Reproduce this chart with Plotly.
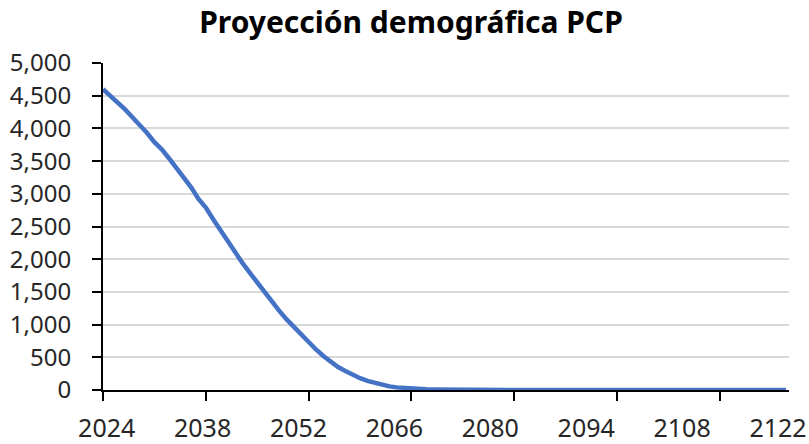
import numpy as np
import plotly.graph_objects as go

years = list(range(2024, 2118))
population = [
    4600, 4500, 4410, 4290, 4170, 4060, 3930, 3790, 3680, 3540,
    3390, 3240, 3100, 2920, 2790, 2610, 2440, 2260, 2110, 1940,
    1790, 1640, 1500, 1340, 1210, 1080, 960, 840, 720, 620,
    520, 430, 350, 290, 230, 180, 140, 110, 80, 55,
    40, 30, 22, 15, 10, 7, 5, 3, 2, 1,
] + [0] * 44

x_tick_marks = [2024, 2038, 2052, 2066, 2080, 2094, 2108]
x_tick_text = ["2024", "2038", "2052", "2066", "2080", "2094", "2108", "2122"]
y_tick_vals = [0, 500, 1000, 1500, 2000, 2500, 3000, 3500, 4000, 4500, 5000]
y_tick_text = ["0", "500", "1,000", "1,500", "2,000", "2,500", "3,000",
               "3,500", "4,000", "4,500", "5,000"]
title_text = "Proyección demográfica PCP"

FONT = "Noto Sans"
TICK_COLOR = "#262626"
X_RANGE = [2024, 2117.4]
# labels are spread evenly across the axis (layout positions)
label_pos = list(np.linspace(2024.5, 2115.9, len(x_tick_text)))

fig = go.Figure()
fig.add_trace(go.Scatter(
    x=years, y=population, mode="lines",
    line=dict(color="#4472C4", width=4.5),
    hoverinfo="skip", showlegend=False,
))
# invisible trace to activate the label axis
fig.add_trace(go.Scatter(
    x=[X_RANGE[0]], y=[0], xaxis="x2", mode="lines",
    hoverinfo="skip", showlegend=False, line=dict(width=0),
))

fig.update_layout(
    width=809, height=444,
    margin=dict(l=103, r=20, t=63, b=54),
    paper_bgcolor="white", plot_bgcolor="white",
    title=dict(text="<b>" + title_text + "</b>", x=411 / 809, xanchor="center",
               xref="container",
               y=1 - 22 / 444, yanchor="middle", yref="container",
               font=dict(family=FONT, size=30, color="black")),
    xaxis=dict(
        range=X_RANGE, tickmode="array",
        tickvals=x_tick_marks, showticklabels=False,
        showgrid=False, zeroline=False, automargin=False,
        showline=True, linecolor="black", linewidth=2,
        ticks="outside", ticklen=9, tickwidth=2, tickcolor="black",
    ),
    xaxis2=dict(
        range=X_RANGE, overlaying="x", side="bottom", anchor="y",
        tickmode="array", tickvals=label_pos, ticktext=x_tick_text,
        showgrid=False, zeroline=False, automargin=False, showline=False,
        ticks="outside", ticklen=9, tickwidth=1, tickcolor="rgba(0,0,0,0)",
        ticklabelstandoff=7,
        tickfont=dict(family=FONT, size=25, color=TICK_COLOR),
    ),
    yaxis=dict(
        range=[0, 5000], tickmode="array",
        tickvals=y_tick_vals, ticktext=y_tick_text,
        showgrid=True, gridcolor="#D9D9D9", gridwidth=2,
        zeroline=False, automargin=False,
        showline=True, linecolor="black", linewidth=2,
        ticks="outside", ticklen=9, tickwidth=2, tickcolor="black",
        ticklabelstandoff=16,
        tickfont=dict(family=FONT, size=24, color=TICK_COLOR),
    ),
)

fig.write_html("out.html",
               config={"displayModeBar": False, "staticPlot": True},
               post_script="document.body.style.margin='0';"
                           "document.body.style.overflow='hidden';")
